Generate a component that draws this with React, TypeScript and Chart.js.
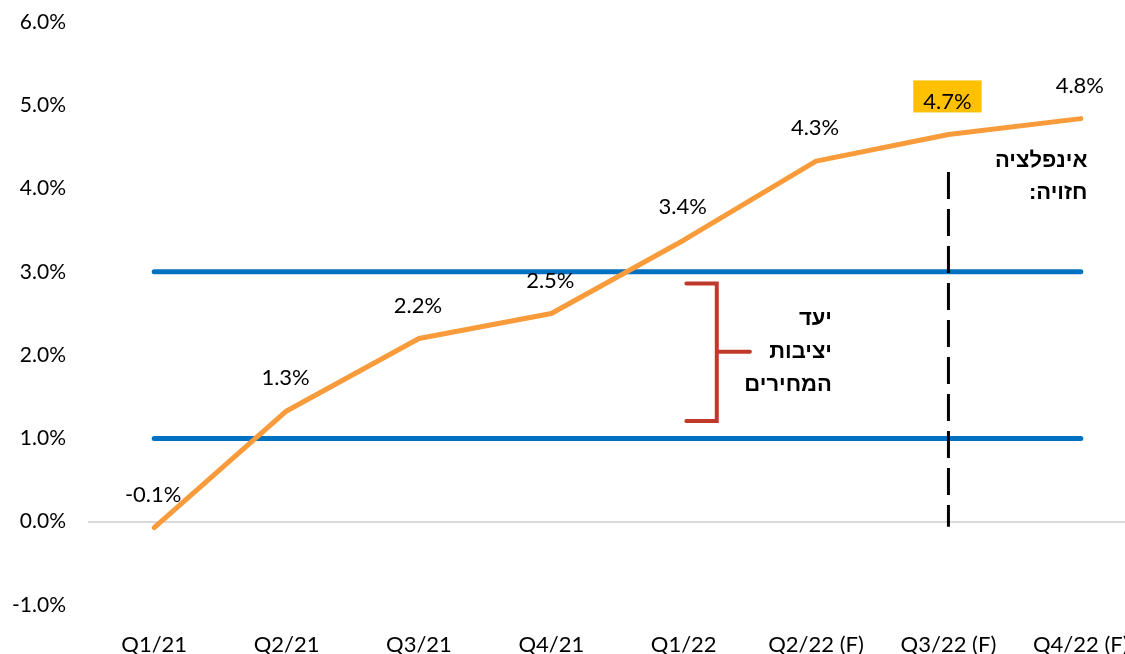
import React, { useEffect, useRef } from 'react';
import { Chart, registerables } from 'chart.js';

Chart.register(...registerables);

const categories = ['Q1/21', 'Q2/21', 'Q3/21', 'Q4/21', 'Q1/22', 'Q2/22 (F)', 'Q3/22 (F)', 'Q4/22 (F)'];
const inflation = [-0.07, 1.33, 2.2, 2.5, 3.38, 4.33, 4.65, 4.84];
const valueLabels = ['-0.1%', '1.3%', '2.2%', '2.5%', '3.4%', '4.3%', '4.7%', '4.8%'];
const highlightIndex = 6;
const targetLow = 1.0;
const targetHigh = 3.0;
const forecastIndex = 6;
const forecastLineTop = 4.2;
const targetTitle = ['יעד', 'יציבות', 'המחירים'];
const forecastTitle = ['אינפלציה', 'חזויה:'];
const yMin = -1;
const yMax = 6;

const LATIN_FONT = 'Lato, "Open Sans", sans-serif';
const HEB_FONT = '"Liberation Sans", Arial, sans-serif';

const annotations = {
  id: 'annotations',
  beforeDatasetsDraw(chart: any) {
    const { ctx, scales } = chart;
    const x = scales.x;
    const y = scales.y;
    const x0 = x.getPixelForValue(0);
    const x1 = x.getPixelForValue(categories.length - 1);
    ctx.save();
    ctx.strokeStyle = '#0070C0';
    ctx.lineWidth = 5;
    ctx.lineCap = 'round';
    [targetHigh, targetLow].forEach((v) => {
      const py = y.getPixelForValue(v);
      ctx.beginPath();
      ctx.moveTo(x0, py);
      ctx.lineTo(x1, py);
      ctx.stroke();
    });
    ctx.restore();
  },
  afterDatasetsDraw(chart: any) {
    const { ctx, scales } = chart;
    const x = scales.x;
    const y = scales.y;
    const step = x.getPixelForValue(1) - x.getPixelForValue(0);

    // dashed forecast divider
    ctx.save();
    const fx = x.getPixelForValue(forecastIndex);
    ctx.strokeStyle = '#000';
    ctx.lineWidth = 3;
    ctx.setLineDash([27, 10]);
    ctx.beginPath();
    ctx.moveTo(fx, y.getPixelForValue(forecastLineTop));
    ctx.lineTo(fx, y.getPixelForValue(0) + 5);
    ctx.stroke();
    ctx.restore();

    // bracket
    ctx.save();
    const bx = x.getPixelForValue(4) + step * 0.25;
    const bl = x.getPixelForValue(4) + step * 0.02;
    const br = x.getPixelForValue(4) + step * 0.5;
    const bt = y.getPixelForValue(2.86);
    const bb = y.getPixelForValue(1.21);
    const bm = y.getPixelForValue(2.04);
    ctx.strokeStyle = '#BF3A2B';
    ctx.lineWidth = 4;
    ctx.lineCap = 'round';
    ctx.lineJoin = 'miter';
    ctx.beginPath();
    ctx.moveTo(bl, bt);
    ctx.lineTo(bx, bt);
    ctx.lineTo(bx, bb);
    ctx.lineTo(bl, bb);
    ctx.moveTo(bx, bm);
    ctx.lineTo(br, bm);
    ctx.stroke();
    ctx.restore();

    // Hebrew texts
    ctx.save();
    ctx.fillStyle = '#000';
    ctx.font = `bold 22px ${HEB_FONT}`;
    ctx.direction = 'rtl';
    ctx.textAlign = 'right';
    ctx.textBaseline = 'middle';
    const tx = x.getPixelForValue(4) + step * 1.12;
    const tyMid = y.getPixelForValue(2.04);
    targetTitle.forEach((t, i) => ctx.fillText(t, tx, tyMid + (i - 1) * 33));
    const fxText = x.getPixelForValue(7) + step * 0.05;
    const fyTop = y.getPixelForValue(4.33);
    forecastTitle.forEach((t, i) => ctx.fillText(t, fxText, fyTop + i * 32));
    ctx.restore();

    // value labels
    ctx.save();
    ctx.font = `22px ${LATIN_FONT}`;
    ctx.textAlign = 'center';
    ctx.textBaseline = 'middle';
    const meta = chart.getDatasetMeta(0);
    meta.data.forEach((pt: any, i: number) => {
      const lx = pt.x - 1;
      const ly = pt.y - 33;
      if (i === highlightIndex) {
        const w = ctx.measureText(valueLabels[i]).width;
        ctx.fillStyle = '#FFC000';
        ctx.fillRect(lx - w / 2 - 10, ly - 21, w + 20, 32);
      }
      ctx.fillStyle = '#000';
      ctx.fillText(valueLabels[i], lx, ly);
    });
    ctx.restore();
  },
};

export default function App() {
  const ref = useRef<HTMLCanvasElement>(null);
  useEffect(() => {
    if (!ref.current) return;
    const chart = new Chart(ref.current, {
      type: 'line',
      data: {
        labels: categories,
        datasets: [
          {
            data: inflation,
            borderColor: '#F99B3A',
            borderWidth: 5,
            pointRadius: 0,
            tension: 0,
            borderCapStyle: 'round',
            borderJoinStyle: 'round',
          },
        ],
      },
      options: {
        responsive: false,
        animation: false,
        devicePixelRatio: 1,
        layout: { padding: { top: 22, right: 3, left: 0, bottom: 0 } },
        plugins: { legend: { display: false }, tooltip: { enabled: false } },
        scales: {
          x: {
            offset: true,
            grid: { display: false },
            border: { display: false },
            ticks: {
              font: { family: LATIN_FONT, size: 22 },
              color: '#000',
              padding: 19,
              maxRotation: 0,
              autoSkip: false,
            },
            afterFit: (s: any) => {
              s.height = 49;
            },
          },
          y: {
            min: yMin,
            max: yMax,
            border: { display: false },
            grid: {
              drawTicks: false,
              lineWidth: 2,
              color: (c: any) => (c.tick && c.tick.value === 0 ? '#D9D9D9' : 'rgba(0,0,0,0)'),
            },
            ticks: {
              stepSize: 1,
              font: { family: LATIN_FONT, size: 21 },
              color: '#000',
              padding: 22,
              callback: (v: any) => Number(v).toFixed(1) + '%',
            },
            afterFit: (s: any) => {
              s.width = 88;
              s.paddingTop = 0;
              s.paddingBottom = 0;
            },
          },
        },
      },
      plugins: [annotations],
    } as any);
    return () => chart.destroy();
  }, []);
  return (
    <div style={{ position: 'fixed', left: 0, top: 0, width: 1125, height: 654, overflow: 'hidden', background: '#fff' }}>
      <canvas ref={ref} width={1150} height={654} style={{ display: 'block' }} />
    </div>
  );
}
